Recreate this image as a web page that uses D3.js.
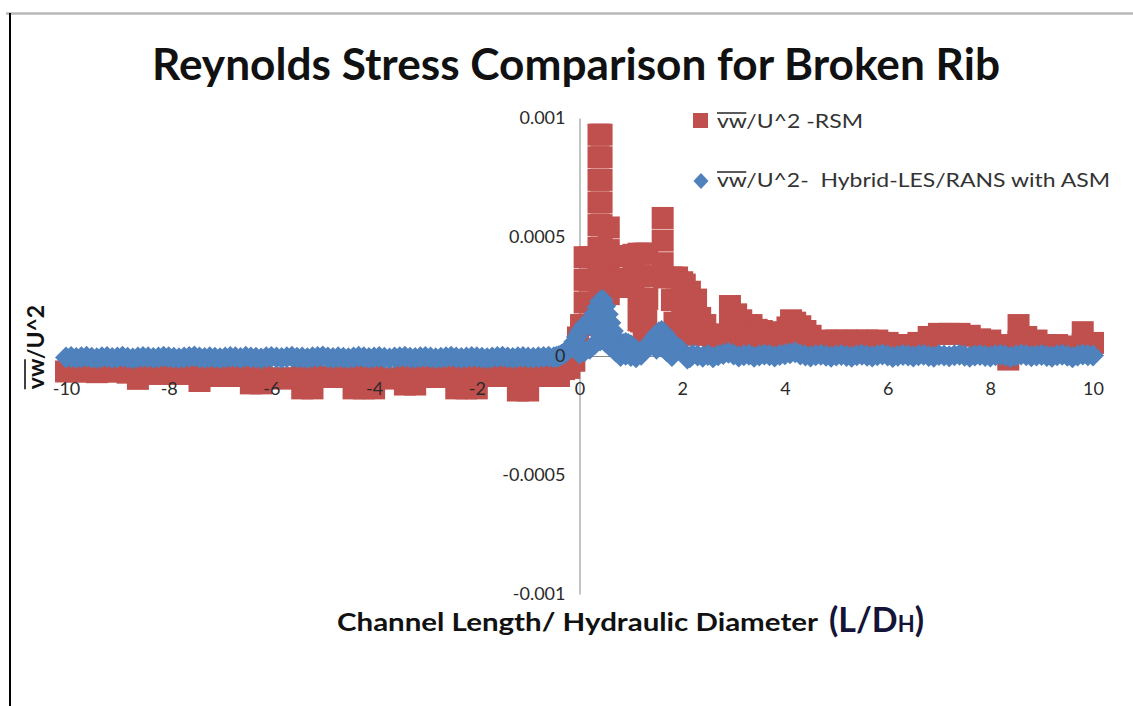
<!DOCTYPE html>
<html>
<head>
<meta charset="utf-8">
<script src="https://cdn.jsdelivr.net/npm/d3@7"></script>
<style>
  html, body { margin: 0; padding: 0; background: #fff; }
  svg { display: block; }
</style>
</head>
<body>
<svg id="chart" width="1133" height="706"></svg>
<script>
// ---- axis ticks ----
const xTicks = [-10, -8, -6, -4, -2, 0, 2, 4, 6, 8, 10];
const yTicks = [0.001, 0.0005, 0, -0.0005, -0.001];
const yTickLabels = ["0.001", "0.0005", "0", "-0.0005", "-0.001"];

// ---- series: [L/DH, vw/U^2] ----
const rsmPoints = [
  // upstream band
  [-10,-6.5e-5],[-9.8,-6.5e-5],[-9.6,-6.5e-5],[-9.4,-6.8e-5],[-9.2,-6.5e-5],[-9,-6.5e-5],
  [-8.8,-7e-5],[-8.6,-6.5e-5],[-8.4,-7.5e-5],[-8.2,-7.5e-5],[-8,-7.5e-5],[-7.8,-7.5e-5],
  [-7.6,-7.5e-5],[-7.4,-7e-5],[-7.2,-8.4e-5],[-7,-8.4e-5],[-6.8,-8.4e-5],[-6.6,-8.4e-5],
  [-6.4,-7e-5],[-6.2,-7e-5],[-6,-9.4e-5],[-5.8,-9.4e-5],[-5.6,-9.4e-5],[-5.4,-7e-5],
  [-5.2,-7e-5],[-5,-8.8e-5],[-4.8,-8.8e-5],[-4.6,-8.8e-5],[-4.4,-7e-5],[-4.2,-7e-5],
  [-4,-7e-5],[-3.8,-9.4e-5],[-3.6,-9.4e-5],[-3.4,-7e-5],[-3.2,-7e-5],[-3,-8.8e-5],
  [-2.8,-8.8e-5],[-2.6,-8.8e-5],[-2.4,-7e-5],[-2.2,-7e-5],[-2,-7e-5],[-1.8,-8.4e-5],
  [-1.6,-8.4e-5],[-1.4,-8.4e-5],[-1.2,-7e-5],[-1,-7e-5],[-0.8,-8.4e-5],[-0.6,-8.4e-5],
  [-0.4,-8.4e-5],
  [-8.6,-9.6e-5],[-7.4,-1.05e-4],[-6.4,-1.15e-4],[-6.2,-1.15e-4],[-5.4,-1.36e-4],[-5.2,-1.36e-4],
  [-4.4,-1.36e-4],[-4.2,-1.36e-4],[-4,-1.36e-4],[-3.4,-1.2e-4],[-3.2,-1.2e-4],[-2.4,-1.36e-4],
  [-2.2,-1.36e-4],[-2,-1.36e-4],[-1.2,-1.45e-4],[-1,-1.45e-4],
  // rise and first peak
  [-0.3,-5.5e-5],[-0.2,-5e-5],[-0.1,-2e-5],[-0.03,7.8e-5],[0.03,1.3e-4],
  [0.1,4.15e-4],[0.1,3.2e-4],[0.1,2.25e-4],[0.1,1.3e-4],
  [0.2,4.15e-4],[0.2,3.2e-4],[0.2,2.25e-4],[0.28,4.15e-4],[0.28,3.2e-4],
  [0.37,9.3e-4],[0.37,8.35e-4],[0.37,7.4e-4],[0.37,6.45e-4],[0.37,5.5e-4],[0.37,4.55e-4],
  [0.37,3.6e-4],[0.37,2.65e-4],
  [0.43,9.3e-4],[0.43,8.35e-4],[0.43,7.4e-4],[0.43,6.45e-4],[0.43,5.5e-4],[0.43,4.55e-4],[0.43,3.6e-4],
  [0.57,5.4e-4],[0.57,4.45e-4],[0.57,3.5e-4],[0.57,2.6e-4],
  // plateau
  [0.65,4.2e-4],[0.75,4.2e-4],[0.85,4.2e-4],[0.95,4.2e-4],[1.05,4.25e-4],[1.15,4.3e-4],
  [1.25,4.3e-4],[1.32,4.3e-4],
  [0.65,3.25e-4],[0.75,3.1e-4],[0.85,2.9e-4],[0.95,2.9e-4],[1.05,3.3e-4],[1.15,3.35e-4],
  [1.25,3.35e-4],[1.32,3.35e-4],[1.15,2.4e-4],[1.25,2.4e-4],[1.32,2.4e-4],[1.15,1.5e-4],
  [1.2,1.45e-4],[1.3,1.5e-4],[1.25,1e-4],
  // second peak
  [1.62,5.8e-4],[1.62,4.85e-4],[1.62,3.9e-4],[1.65,3.3e-4],
  [1.8,3.3e-4],[1.9,3.3e-4],[1.8,2.35e-4],[1.9,2.35e-4],[1.85,1.4e-4],[1.9,6e-5],
  [2,3.1e-4],[2,2.2e-4],[2,1.3e-4],
  [2.05,3e-4],[2.15,2.7e-4],[2.27,2.37e-4],[2.05,2e-4],[2.15,1.5e-4],[2.25,1.3e-4],[2.1,1e-4],
  [2.15,9e-5],[2.25,9e-5],
  // downstream
  [2.35,1.6e-4],[2.45,1.3e-4],[2.4,1.1e-4],[2.5,9e-5],[2.6,8e-5],[2.7,9e-5],[2.8,8e-5],
  [2.93,2.1e-4],[2.93,1.2e-4],[3.05,1.75e-4],[3.15,1.5e-4],[3.25,1.3e-4],[3.35,1.3e-4],
  [3.45,1.1e-4],[3.55,1.05e-4],[3.65,9e-5],[3.75,7e-5],[3.85,8e-5],[3.95,1e-4],
  [3.05,8e-5],[3.25,8e-5],[3.45,8e-5],
  [4.05,1.2e-4],[4.12,1.5e-4],[4.2,1.4e-4],[4.3,1.25e-4],[4.4,1.05e-4],[4.5,8.5e-5],[4.6,6e-5],
  [4.15,8e-5],[4.35,8e-5],
  [4.8,6.5e-5],[5,6.5e-5],[5.2,6.5e-5],[5.4,6.5e-5],[5.6,6.5e-5],[5.8,6.5e-5],[6,5.5e-5],
  [6.2,4.6e-5],[6.4,4.6e-5],[6.6,5.5e-5],[6.8,8e-5],[7,9.3e-5],[7.2,9.3e-5],[7.4,9.3e-5],
  [7.6,8.5e-5],[7.8,7e-5],[8,6.5e-5],[8.2,4.6e-5],[8.35,-1.5e-5],[8.55,1.3e-4],[8.55,6e-5],
  [8.7,8e-5],[8.9,6.5e-5],[9.1,4.6e-5],[9.3,4.6e-5],[9.5,3.4e-5],[9.6,4e-5],[9.8,1e-4],
  [9.8,5e-5],[10,5.5e-5]
];

const hybridPoints = [
  [-10,-6e-6],[-9.9,-4e-6],[-9.8,-8e-6],[-9.7,-5e-6],[-9.6,-3e-6],[-9.5,-7e-6],[-9.4,-9e-6],
  [-9.3,-5e-6],[-9.2,-4e-6],[-9.1,-8e-6],[-9,-6e-6],[-8.9,-3e-6],[-8.8,-7e-6],[-8.7,-1e-5],
  [-8.6,-6e-6],[-8.5,-4e-6],[-8.4,-5e-6],[-8.3,-8e-6],[-8.2,-6e-6],[-8.1,-3e-6],[-8,-5e-6],
  [-7.9,-7e-6],[-7.8,-9e-6],[-7.7,-6e-6],[-7.6,-4e-6],[-7.5,-2e-6],[-7.4,-6e-6],[-7.3,-8e-6],
  [-7.2,-5e-6],[-7.1,-7e-6],[-7,-9e-6],[-6.9,-6e-6],[-6.8,-4e-6],[-6.7,-5e-6],[-6.6,-8e-6],
  [-6.5,-3e-6],[-6.4,-6e-6],[-6.3,-7e-6],[-6.2,-1e-5],[-6.1,-5e-6],[-6,-4e-6],[-5.9,-6e-6],
  [-5.8,-8e-6],[-5.7,-5e-6],[-5.6,-3e-6],[-5.5,-7e-6],[-5.4,-6e-6],[-5.3,-9e-6],[-5.2,-5e-6],
  [-5.1,-4e-6],[-5,-2e-6],[-4.9,-6e-6],[-4.8,-8e-6],[-4.7,-5e-6],[-4.6,-7e-6],[-4.5,-9e-6],
  [-4.4,-6e-6],[-4.3,-3e-6],[-4.2,-5e-6],[-4.1,-8e-6],[-4,-6e-6],[-3.9,-4e-6],[-3.8,-7e-6],
  [-3.7,-1e-5],[-3.6,-6e-6],[-3.5,-5e-6],[-3.4,-3e-6],[-3.3,-7e-6],[-3.2,-8e-6],[-3.1,-5e-6],
  [-3,-4e-6],[-2.9,-6e-6],[-2.8,-9e-6],[-2.7,-7e-6],[-2.6,-5e-6],[-2.5,-3e-6],[-2.4,-6e-6],
  [-2.3,-8e-6],[-2.2,-6e-6],[-2.1,-4e-6],[-2,-5e-6],[-1.9,-7e-6],[-1.8,-9e-6],[-1.7,-6e-6],
  [-1.6,-4e-6],[-1.5,-3e-6],[-1.4,-6e-6],[-1.3,-8e-6],[-1.2,-5e-6],[-1.1,-4e-6],[-1,-6e-6],
  [-0.9,-7e-6],[-0.8,-5e-6],[-0.7,-4e-6],[-0.6,-3e-6],
  [-0.5,-5e-6],[-0.45,-3e-6],[-0.4,0],[-0.35,5e-6],[-0.3,1e-5],[-0.25,2e-5],[-0.2,3e-5],
  [-0.15,4.5e-5],[-0.1,6e-5],[-0.05,8e-5],[0,1e-4],[0.05,1.15e-4],[0.1,1.3e-4],[0.15,1.35e-4],
  [0.2,1.45e-4],[0.25,1.6e-4],[0.3,1.8e-4],[0.35,2.05e-4],[0.4,2.3e-4],[0.45,2.35e-4],
  [0.5,2.1e-4],[0.55,1.75e-4],[0.6,1.4e-4],[0.65,1.05e-4],[0.7,7.5e-5],[0.75,5.5e-5],
  [0.8,4.5e-5],[0.85,5e-5],[0.9,5.5e-5],[0.95,5e-5],[1,4.5e-5],[1.05,3.5e-5],[1.1,2.5e-5],
  [1.15,1e-5],[1.2,5e-6],[1.25,2e-5],[1.3,3.5e-5],[1.35,5e-5],[1.4,6e-5],[1.45,7.5e-5],
  [1.5,9e-5],[1.55,1e-4],[1.6,1.05e-4],[1.65,9.5e-5],[1.7,8e-5],[1.75,6e-5],[1.8,4.5e-5],
  [1.85,4e-5],[1.9,3.5e-5],[1.95,3e-5],[2,2e-5],[2.05,5e-6],[2.1,-1e-5],[2.15,-5e-6],[2.2,5e-6],
  [0,1e-5],[0.1,2e-5],[0.2,3e-5],[0.3,5e-5],[0.4,6.5e-5],[0.5,6e-5],[0.6,4e-5],[0.7,2e-5],
  [0.3,1.1e-4],[0.4,1.5e-4],[0.5,1.4e-4],[0.6,9e-5],
  [0.8,0],[0.9,5e-6],[1,0],[1.1,-5e-6],[1.5,3e-5],[1.6,4e-5],[1.7,2e-5],[1.8,0],
  [2.3,2e-6],[2.4,-3e-6],[2.5,4e-6],[2.6,-5e-6],[2.7,3e-6],[2.8,8e-6],[2.9,1.4e-5],[3,6e-6],
  [3.1,-2e-6],[3.2,3e-6],[3.3,5e-6],[3.4,-3e-6],[3.5,2e-6],[3.6,6e-6],[3.7,3e-6],[3.8,-2e-6],
  [3.9,4e-6],[4,7e-6],[4.1,1.2e-5],[4.2,1.6e-5],[4.3,6e-6],[4.4,2e-6],[4.5,-2e-6],[4.6,3e-6],
  [4.7,5e-6],[4.8,1e-6],[4.9,-3e-6],[5,2e-6],[5.1,4e-6],[5.2,0],[5.3,-3e-6],[5.4,3e-6],
  [5.5,5e-6],[5.6,1e-6],[5.7,-2e-6],[5.8,3e-6],[5.9,6e-6],[6,2e-6],[6.1,-4e-6],[6.2,1e-6],
  [6.3,4e-6],[6.4,2e-6],[6.5,-2e-6],[6.6,3e-6],[6.7,5e-6],[6.8,0],[6.9,-3e-6],[7,4e-6],
  [7.1,2e-6],[7.2,-1e-6],[7.3,3e-6],[7.4,5e-6],[7.5,1e-6],[7.6,-3e-6],[7.7,2e-6],[7.8,4e-6],
  [7.9,0],[8,-2e-6],[8.1,3e-6],[8.2,5e-6],[8.3,1e-6],[8.4,-4e-6],[8.5,2e-6],[8.6,6e-6],
  [8.7,3e-6],[8.8,-1e-6],[8.9,2e-6],[9,4e-6],[9.1,0],[9.2,-3e-6],[9.3,3e-6],[9.4,5e-6],
  [9.5,1e-6],[9.6,-5e-6],[9.7,2e-6],[9.8,6e-6],[9.9,3e-6],[10,2e-6]
];

const seriesNames = ["vw/U^2 -RSM", "vw/U^2-  Hybrid-LES/RANS with ASM"];
const chartTitle = "Reynolds Stress Comparison for Broken Rib";
const xTitleMain = "Channel Length/ Hydraulic Diameter";
const yTitle = "vw/U^2";

const RED = "#C0504D", BLUE = "#4F81BD";
const FONT = "Lato, 'Open Sans', 'DejaVu Sans', sans-serif";

const svg = d3.select("#chart");

const x = d3.scaleLinear().domain([-10, 10]).range([66, 1093]);
const y = d3.scaleLinear().domain([-0.001, 0.001]).range([594, 118]);

// page frame
svg.append("line").attr("x1", 6).attr("x2", 1133).attr("y1", 13.5).attr("y2", 13.5)
  .attr("stroke", "#b9b9b9").attr("stroke-width", 2.5);
svg.append("line").attr("x1", 10).attr("x2", 10).attr("y1", 13).attr("y2", 706)
  .attr("stroke", "#000").attr("stroke-width", 2);

// title
svg.append("text").attr("x", 576).attr("y", 80).attr("text-anchor", "middle")
  .attr("font-family", FONT).attr("font-weight", 700).attr("font-size", 43)
  .attr("textLength", 848).attr("lengthAdjust", "spacingAndGlyphs")
  .attr("fill", "#111").text(chartTitle);

// axis lines (under the markers)
const axisLines = svg.append("g");
axisLines.append("g").attr("transform", `translate(${x(0)},0)`)
  .call(d3.axisLeft(y).tickValues([]).tickSizeOuter(0))
  .call(g => g.select(".domain").attr("stroke", "#8a8a8a"));
axisLines.append("g").attr("transform", `translate(0,${y(0)})`)
  .call(d3.axisBottom(x).tickValues([]).tickSizeOuter(0))
  .call(g => g.select(".domain").attr("stroke", "#8a8a8a"));

// RSM: square markers
const sq = 22;
svg.append("g").selectAll("rect").data(rsmPoints).join("rect")
  .attr("x", d => x(d[0]) - sq / 2).attr("y", d => y(d[1]) - sq / 2)
  .attr("width", sq).attr("height", sq).attr("fill", RED);

// Hybrid: diamond markers
const dm = 11;
const diamond = `M0,${-dm}L${dm},0L0,${dm}L${-dm},0Z`;
svg.append("g").selectAll("path").data(hybridPoints).join("path")
  .attr("transform", d => `translate(${x(d[0])},${y(d[1])})`)
  .attr("d", diamond).attr("fill", BLUE);

// tick labels (drawn above the markers)
const yAx = svg.append("g").attr("transform", `translate(${x(0)},0)`)
  .call(d3.axisLeft(y).tickValues(yTicks).tickFormat((d, i) => yTickLabels[i]).tickSize(0).tickPadding(14));
yAx.select(".domain").remove();
yAx.selectAll("text").attr("font-family", FONT).attr("font-size", 18).attr("fill", "#2a2a2a");

const xAx = svg.append("g").attr("transform", `translate(0,${y(0)})`)
  .call(d3.axisBottom(x).tickValues(xTicks).tickFormat(d => String(d)).tickSize(0).tickPadding(26));
xAx.select(".domain").remove();
xAx.selectAll("text").attr("font-family", FONT).attr("font-size", 18).attr("fill", "#2a2a2a");

// helper: bar over the first two characters ("vw")
function overbar(parent, textNode, lift) {
  const s = textNode.getStartPositionOfChar(0);
  const e = textNode.getEndPositionOfChar(1);
  parent.append("line").attr("x1", s.x).attr("x2", e.x)
    .attr("y1", s.y - lift).attr("y2", s.y - lift)
    .attr("stroke", textNode.getAttribute("fill")).attr("stroke-width", 1.6);
}

// y axis title (rotated)
const yt = svg.append("g").attr("transform", "translate(44,347) rotate(-90)");
const ytText = yt.append("text").attr("x", 0).attr("y", 0).attr("text-anchor", "middle")
  .attr("font-family", FONT).attr("font-weight", 700).attr("font-size", 23)
  .attr("fill", "#111").text(yTitle);
overbar(yt, ytText.node(), 19);

// x axis title
svg.append("text").attr("x", 337).attr("y", 631)
  .attr("font-family", FONT).attr("font-weight", 700).attr("font-size", 25)
  .attr("textLength", 481).attr("lengthAdjust", "spacingAndGlyphs")
  .attr("fill", "#111").text(xTitleMain);
const ld = svg.append("text").attr("x", 829).attr("y", 632)
  .attr("font-family", FONT).attr("font-weight", 700).attr("fill", "#141438");
ld.append("tspan").attr("font-size", 34).text("(L/D");
ld.append("tspan").attr("font-size", 22).text("H");
ld.append("tspan").attr("font-size", 34).text(")");

// legend
const legend = svg.append("g");
legend.append("rect").attr("x", 693).attr("y", 113).attr("width", 15).attr("height", 15).attr("fill", RED);
legend.append("path").attr("transform", "translate(701,181)")
  .attr("d", "M0,-8L7.5,0L0,8L-7.5,0Z").attr("fill", BLUE);
const l1 = legend.append("text").attr("x", 717).attr("y", 128)
  .attr("font-family", FONT).attr("font-size", 19).attr("fill", "#333")
  .attr("textLength", 146).attr("lengthAdjust", "spacingAndGlyphs")
  .style("white-space", "pre").text(seriesNames[0]);
overbar(legend, l1.node(), 15);
const l2 = legend.append("text").attr("x", 717).attr("y", 187)
  .attr("font-family", FONT).attr("font-size", 19).attr("fill", "#333")
  .attr("textLength", 393).attr("lengthAdjust", "spacingAndGlyphs")
  .style("white-space", "pre").text(seriesNames[1]);
overbar(legend, l2.node(), 15);
</script>
</body>
</html>
